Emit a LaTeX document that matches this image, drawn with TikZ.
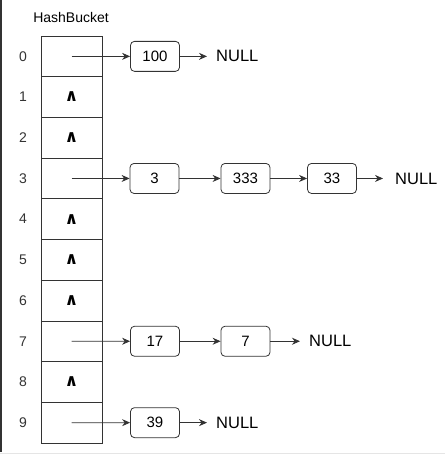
\documentclass[tikz,border=0pt]{standalone}
\usepackage{fontspec}
\setmainfont{Liberation Sans}
\newfontfamily\symfont{DejaVu Sans}
\usetikzlibrary{arrows.meta}
\definecolor{linecol}{HTML}{333333}
\newcommand{\nilsym}{{\symfont\bfseries\fontsize{17}{18}\selectfont ∧}}
\tikzset{
  cell/.style={draw=linecol,line width=0.8pt,minimum width=61pt,minimum height=40.7pt,inner sep=0pt},
  listnode/.style={draw=linecol,line width=0.8pt,rounded corners=4pt,minimum width=49pt,minimum height=30pt,inner sep=0pt,font=\fontsize{15}{17}\selectfont},
  nullnode/.style={anchor=west,inner sep=0pt,font=\fontsize{16.5}{18}\selectfont},
  link/.style={->,draw=linecol,line width=0.8pt}
}
\begin{document}
\begin{tikzpicture}[x=1pt,y=-1pt,>={Stealth[length=8pt,width=7pt]}]
            \useasboundingbox (0,0) rectangle (445,456);
            \fill[black!80] (0,0) rectangle (2,452);
            \draw[black!10] (0,453.5) -- (445,453.5);

            \node[font=\fontsize{14}{16}\selectfont] (title) at (71,17) {HashBucket};

            % bucket array
            \begin{scope}[every node/.style={cell}]
                \foreach \i in {0,...,9}
                    \node (c\i) at (71.5,{56.35+40.7*\i}) {};
            \end{scope}
            \foreach \i in {0,...,9}
                \node[font=\fontsize{14}{16}\selectfont,text=black!80] (idx\i) at (23,{56.35+40.7*\i}) {\i};
            \foreach \i in {1,2,4,5,6,8}
                \node (nil\i) at (c\i) {\nilsym};

            % chains
            \begin{scope}[every node/.style={listnode}]
                \node (a0) at (155,56.35) {100};
                \node (a3) at (154.5,178.45) {3};
                \node (b3) at (245.5,178.45) {333};
                \node (d3) at (332,178.45) {33};
                \node (a7) at (155,341.25) {17};
                \node (b7) at (245.5,341.25) {7};
                \node (a9) at (155,422.65) {39};
            \end{scope}
            \begin{scope}[every node/.style={nullnode}]
                \node (null0) at (216,56.35) {NULL};
                \node (null3) at (395,178.45) {NULL};
                \node (null7) at (309,341.25) {NULL};
                \node (null9) at (216,422.65) {NULL};
            \end{scope}

            \begin{scope}[link]
                \draw (c0.center) -- (a0);
                \draw[shorten >=9pt] (a0) -- (null0);
                \draw (c3.center) -- (a3);
                \draw (a3) -- (b3);
                \draw (b3) -- (d3);
                \draw[shorten >=12pt] (d3) -- (null3);
                \draw (c7.center) -- (a7);
                \draw (a7) -- (b7);
                \draw[shorten >=9pt] (b7) -- (null7);
                \draw (c9.center) -- (a9);
                \draw[shorten >=9pt] (a9) -- (null9);
            \end{scope}
            \end{tikzpicture}
\end{document}
